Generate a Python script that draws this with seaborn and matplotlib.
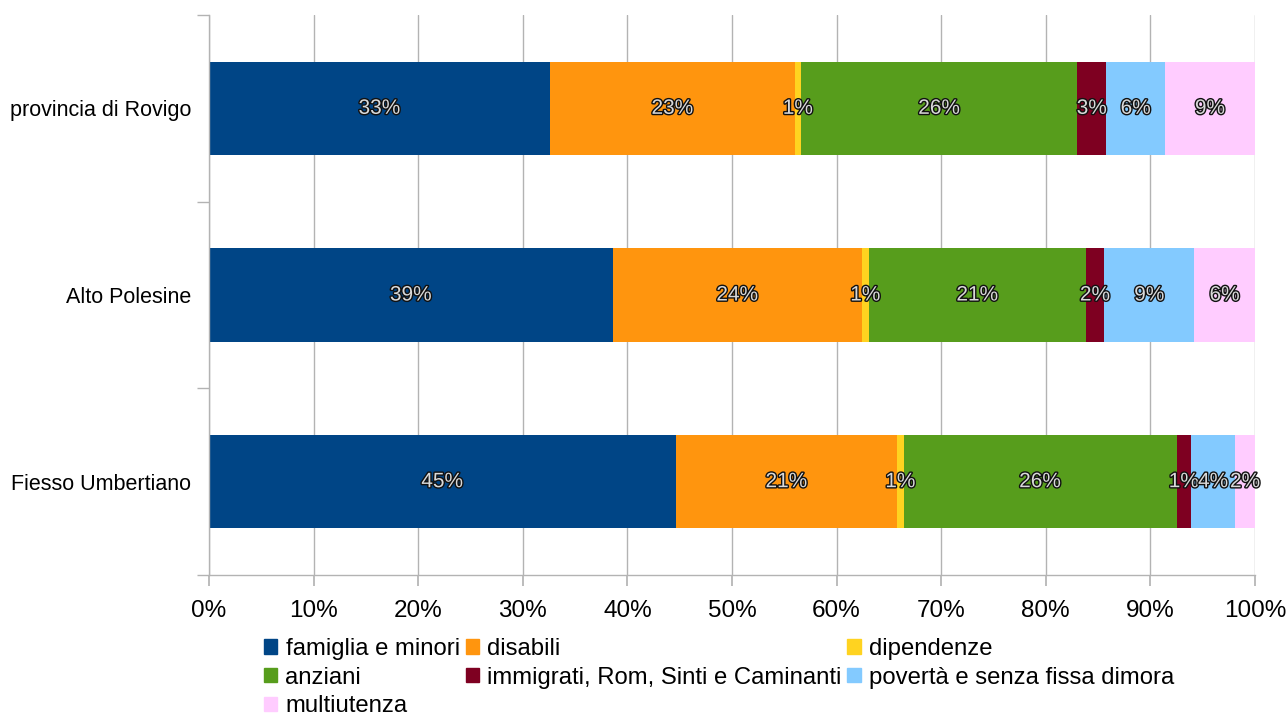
import numpy as np
import pandas as pd
import matplotlib
matplotlib.use("Agg")
import matplotlib.pyplot as plt
import matplotlib.patheffects as pe
from matplotlib.ticker import PercentFormatter
import seaborn as sns

# Dati (percentuali)
areas = ["provincia di Rovigo", "Alto Polesine", "Fiesso Umbertiano"]
series = [
    "famiglia e minori",
    "disabili",
    "dipendenze",
    "anziani",
    "immigrati, Rom, Sinti e Caminanti",
    "povertà e senza fissa dimora",
    "multiutenza",
]
famiglia = [32.6, 38.6, 44.6]
disabili = [23.4, 23.8, 21.2]
dipendenze = [0.6, 0.7, 0.6]
anziani = [26.4, 20.7, 26.1]
immigrati = [2.8, 1.8, 1.4]
poverta = [5.6, 8.6, 4.2]
multiutenza = [8.6, 5.8, 1.9]

COLORS = ["#004586", "#ff950e", "#ffd320", "#579d1c", "#7e0021", "#83caff", "#ffccff"]

sns.set_theme(style="whitegrid")
plt.rcParams["font.family"] = ["Liberation Sans", "DejaVu Sans"]

df = pd.DataFrame(
    dict(zip(series, [famiglia, disabili, dipendenze, anziani, immigrati, poverta, multiutenza])),
    index=areas,
)
cum = df.cumsum(axis=1)
cum["area"] = areas

fig = plt.figure(figsize=(12.88, 7.18), dpi=100)
ax = fig.add_axes([209 / 1288, 1 - 575 / 718, (1255 - 209) / 1288, 560 / 718])

# barre cumulative disegnate dall'ultima alla prima
handles = {}
for s, c in reversed(list(zip(series, COLORS))):
    sns.barplot(data=cum, x=s, y="area", color=c, width=0.5, orient="h",
                linewidth=0, saturation=1, ax=ax)
for s, c in zip(series, COLORS):
    handles[s] = plt.Rectangle((0, 0), 1, 1, color=c)

# etichette percentuali al centro dei segmenti
for i, area in enumerate(areas):
    left = 0
    for s in series:
        v = df.loc[area, s]
        ax.text(left + v / 2, i, f"{v:.0f}%", ha="center", va="center", fontsize=15,
                color="#d9d9d9",
                path_effects=[pe.withStroke(linewidth=2.0, foreground="#111111")])
        left += v

ax.set_xlim(0, 100)
ax.set_ylim(2.5, -0.5)
ax.set_xticks(np.arange(0, 101, 10))
ax.xaxis.set_major_formatter(PercentFormatter(100, decimals=0))
ax.set_xlabel("")
ax.set_ylabel("")
ax.grid(axis="x", color="#b3b3b3", linewidth=1)
ax.grid(axis="y", visible=False)
ax.set_facecolor("white")
for side in ["top", "right"]:
    ax.spines[side].set_visible(False)
for side in ["left", "bottom"]:
    ax.spines[side].set_color("#b3b3b3")
    ax.spines[side].set_linewidth(1)

ax.tick_params(axis="x", which="major", length=8, color="#b3b3b3", labelsize=17.5, pad=10,
               bottom=True, direction="out", labelcolor="black")
ax.set_yticks([0, 1, 2])
ax.set_yticklabels(areas)
ax.tick_params(axis="y", which="major", length=0, labelsize=15.5, pad=13, labelcolor="black")
ax.set_yticks([-0.5, 0.5, 1.5, 2.5], minor=True)
ax.tick_params(axis="y", which="minor", length=9, color="#b3b3b3", left=True, direction="out")

# legenda in 3 colonne, ordine per righe
order = [0, 3, 6, 1, 4, 2, 5]
leg = fig.legend([handles[series[k]] for k in order], [series[k] for k in order],
                 loc="upper left", bbox_to_anchor=(264 / 1288, 1 - 638 / 718), ncol=3,
                 frameon=False, fontsize=17.2, handlelength=0.55, handleheight=0.55,
                 handletextpad=0.35, columnspacing=0.25, labelspacing=0.28,
                 borderaxespad=0, borderpad=0)
for t in leg.get_texts():
    t.set_color("black")

fig.savefig("out.png", dpi=100, facecolor="white")
